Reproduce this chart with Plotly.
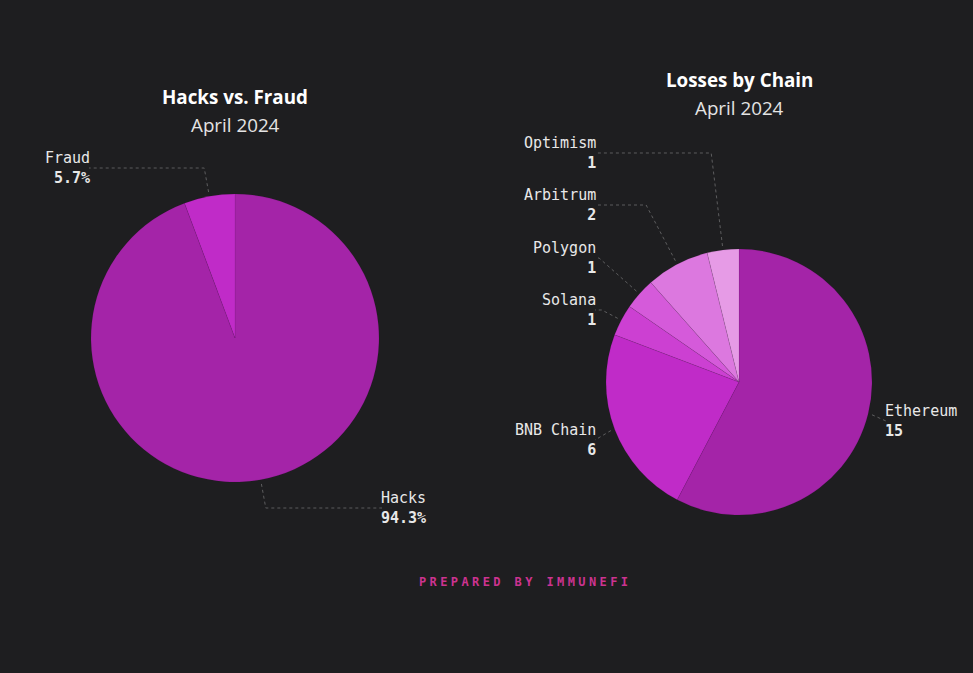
import math
import plotly.graph_objects as go

# ---------------- data ----------------
type_labels = ["Hacks", "Fraud"]
type_values = [94.3, 5.7]

chain_labels = ["Ethereum", "BNB Chain", "Solana", "Polygon", "Arbitrum", "Optimism"]
chain_values = [15, 6, 1, 1, 2, 1]

# ---------------- style ----------------
W, H = 973, 673
BG = "#1e1e20"
type_colors = ["#a424a8", "#c02bc8"]
chain_colors = ["#a424a8", "#c02bc8", "#cc40d2", "#d55ada", "#dc78df", "#e69be6"]
MONO = "DejaVu Sans Mono"
SANS = "Open Sans"
LINE_COL = "rgba(255,255,255,0.28)"

# pie placement (pixels): center and radius
left_pie = dict(cx=235, cy=338, r=144)
right_pie = dict(cx=739, cy=382, r=133)

# label placement (pixels): side, line y, text edge x
type_label_pos = {"Hacks": ("right", 508, 379), "Fraud": ("left", 168, 92)}
chain_label_pos = {
    "Ethereum": ("right", 421, 883),
    "BNB Chain": ("left", 440, 598),
    "Solana": ("left", 310, 598),
    "Polygon": ("left", 258, 598),
    "Arbitrum": ("left", 205, 598),
    "Optimism": ("left", 153, 598),
}


def px(x):
    return x / W


def py(y):
    return 1 - y / H


def domain(p):
    return dict(x=[px(p["cx"] - p["r"]), px(p["cx"] + p["r"])],
                y=[py(p["cy"] + p["r"]), py(p["cy"] - p["r"])])


slice_line = dict(color="rgba(60,0,60,0.18)", width=0.5)
fig = go.Figure()
fig.add_trace(go.Pie(labels=type_labels, values=type_values, sort=False,
                     direction="clockwise", textinfo="none", hoverinfo="label+percent",
                     marker=dict(colors=type_colors, line=slice_line),
                     domain=domain(left_pie), showlegend=False))
fig.add_trace(go.Pie(labels=chain_labels, values=chain_values, sort=False,
                     direction="clockwise", textinfo="none", hoverinfo="label+value",
                     marker=dict(colors=chain_colors, line=slice_line),
                     domain=domain(right_pie), showlegend=False))

shapes = []
annotations = []


def add_labels(p, labels, values, texts, posmap):
    total = sum(values)
    cum = 0
    for lab, v, txt in zip(labels, values, texts):
        frac = (cum + v / 2) / total
        cum += v
        th = 2 * math.pi * frac
        s, c = math.sin(th), math.cos(th)
        side, ly, lx = posmap[lab]
        endx = lx + 3 if side == "right" else lx - 3
        r0 = p["r"] * 1.03
        x0, y0 = p["cx"] + r0 * s, p["cy"] - r0 * c
        pts = [(x0, y0)]
        if abs(c) > 1e-6:
            t = (p["cy"] - ly) / c
            ex = p["cx"] + t * s
            ok = t > r0 and ((side == "left" and ex > endx) or (side == "right" and ex < endx))
            if ok:
                pts.append((ex, ly))
        pts.append((endx, ly))
        path = "M " + " L ".join(f"{px(a):.5f},{py(b):.5f}" for a, b in pts)
        shapes.append(dict(type="path", xref="paper", yref="paper", path=path,
                           line=dict(color=LINE_COL, width=1, dash="3px,3px")))
        annotations.append(dict(
            x=px(lx), y=py(ly), xref="paper", yref="paper",
            xanchor="left" if side == "right" else "right", yanchor="middle",
            align="left" if side == "right" else "right",
            text=f"{lab}<br><b>{txt}</b>", showarrow=False,
            font=dict(family=MONO, size=15, color="#e8e8e8")))


add_labels(left_pie, type_labels, type_values, [f"{v}%" for v in type_values], type_label_pos)
add_labels(right_pie, chain_labels, chain_values, [str(v) for v in chain_values], chain_label_pos)

# titles
for p, title, ty in [(left_pie, "Hacks vs. Fraud", 97), (right_pie, "Losses by Chain", 80)]:
    annotations.append(dict(x=px(p["cx"]), y=py(ty), xref="paper", yref="paper",
                            xanchor="center", yanchor="middle", showarrow=False,
                            text=f"<b>{title}</b>", font=dict(family=SANS, size=18.8, color="#ffffff")))
    annotations.append(dict(x=px(p["cx"]), y=py(ty + 28), xref="paper", yref="paper",
                            xanchor="center", yanchor="middle", showarrow=False,
                            text="April 2024", font=dict(family=SANS, size=18.8, color="#e4e4e4")))

annotations.append(dict(x=px(525), y=py(582), xref="paper", yref="paper",
                        xanchor="center", yanchor="middle", showarrow=False,
                        text='<span style="letter-spacing:3.4px"><b>PREPARED BY IMMUNEFI</b></span>',
                        font=dict(family=MONO, size=12, color="#cc3390")))

fig.update_layout(width=W, height=H, margin=dict(l=0, r=0, t=0, b=0),
                  paper_bgcolor=BG, plot_bgcolor=BG,
                  shapes=shapes, annotations=annotations)

fig.write_html("out.html", config={"displayModeBar": False},
               post_script="document.body.style.margin='0';document.body.style.background='%s';" % BG)
